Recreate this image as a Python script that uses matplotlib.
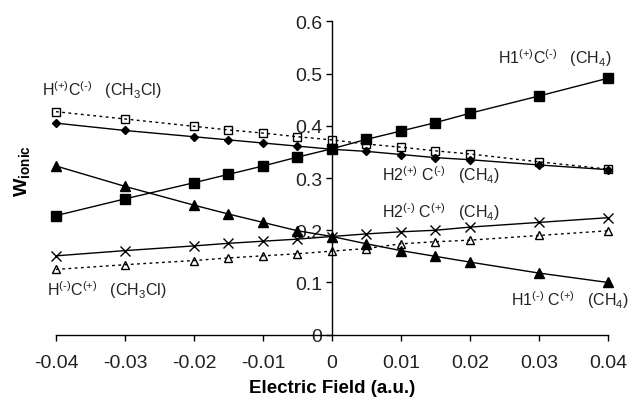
import numpy as np
import matplotlib
matplotlib.use('Agg')
import matplotlib.pyplot as plt

plt.rcParams['font.family'] = ['Liberation Sans', 'DejaVu Sans']
plt.rcParams['mathtext.fontset'] = 'custom'
plt.rcParams['mathtext.rm'] = 'Liberation Sans'
plt.rcParams['mathtext.bf'] = 'Liberation Sans:bold'
plt.rcParams['mathtext.default'] = 'regular'
plt.rcParams['axes.unicode_minus'] = False

# electric field values (a.u.)
field = [-0.04, -0.03, -0.02, -0.015, -0.01, -0.005, 0,
         0.005, 0.01, 0.015, 0.02, 0.03, 0.04]

h1p_c_ch4 = [0.228, 0.260, 0.291, 0.307, 0.323, 0.340, 0.356,
             0.374, 0.390, 0.406, 0.424, 0.457, 0.491]
h2p_c_ch4 = [0.405, 0.391, 0.379, 0.373, 0.367, 0.361, 0.355,
             0.351, 0.345, 0.339, 0.335, 0.325, 0.316]
hp_c_ch3cl = [0.427, 0.413, 0.399, 0.392, 0.386, 0.379, 0.373,
              0.365, 0.359, 0.352, 0.346, 0.331, 0.317]
h1m_c_ch4 = [0.323, 0.284, 0.248, 0.231, 0.215, 0.199, 0.188,
             0.174, 0.161, 0.150, 0.139, 0.118, 0.100]
h2m_c_ch4 = [0.151, 0.161, 0.170, 0.175, 0.179, 0.183, 0.188,
             0.193, 0.197, 0.200, 0.206, 0.215, 0.224]
hm_c_ch3cl = [0.125, 0.134, 0.142, 0.147, 0.151, 0.155, 0.160,
              0.165, 0.174, 0.178, 0.181, 0.190, 0.199]

xticks = [-0.04, -0.03, -0.02, -0.01, 0, 0.01, 0.02, 0.03, 0.04]
xticklabels = ['-0.04', '-0.03', '-0.02', '-0.01', '0', '0.01', '0.02', '0.03', '0.04']
yticks = [0, 0.1, 0.2, 0.3, 0.4, 0.5, 0.6]
yticklabels = ['0', '0.1', '0.2', '0.3', '0.4', '0.5', '0.6']

fig = plt.figure(figsize=(6.32, 4.10), dpi=100)
ax = fig.add_axes([0.0886, 0.1812, 0.8734, 0.7644])

dot = (0, (2, 2.5))
ax.plot(field, hp_c_ch3cl, color='k', lw=1, ls=dot, marker='s', ms=6,
        mfc='none', mec='k', mew=1, clip_on=False)
ax.plot(field, hm_c_ch3cl, color='k', lw=1, ls=dot, marker='^', ms=6,
        mfc='none', mec='k', mew=1, clip_on=False)
ax.plot(field, h2p_c_ch4, color='k', lw=1, marker='D', ms=4.5, clip_on=False)
ax.plot(field, h1p_c_ch4, color='k', lw=1, marker='s', ms=6.5, clip_on=False)
ax.plot(field, h1m_c_ch4, color='k', lw=1, marker='^', ms=6.5, clip_on=False)
ax.plot(field, h2m_c_ch4, color='k', lw=1, marker='x', ms=6.5, mew=1, clip_on=False)

ax.set_xlim(-0.04, 0.04)
ax.set_ylim(0, 0.6)
ax.spines['left'].set_position(('data', 0))
ax.spines['bottom'].set_position(('data', 0))
ax.spines['right'].set_visible(False)
ax.spines['top'].set_visible(False)
for s in ('left', 'bottom'):
    ax.spines[s].set_linewidth(1)

ax.set_xticks(xticks)
ax.set_xticklabels(xticklabels)
ax.set_yticks(yticks)
ax.set_yticklabels(yticklabels)
ax.tick_params(axis='both', direction='out', length=4, width=1, labelsize=14,
               colors='k', labelcolor='#222222')
ax.tick_params(axis='x', pad=10)
ax.tick_params(axis='y', pad=3)

ax.set_xlabel('Electric Field (a.u.)', fontsize=13.5, fontweight='bold', labelpad=6)
fig.text(0.035, 0.583, r'$\mathbf{W}_{\mathbf{ionic}}$', rotation=90,
         fontsize=14, ha='center', va='center')

# superscript signs; a hyphen so the minus stays short as in the original
P = '(+)'
M = '(\u2010)'
tfs = 11.5
tc = '#222222'
ax.text(0.024, 0.532, 'H1$^{%s}$C$^{%s}$   (CH$_4$)' % (P, M), fontsize=tfs, color=tc, va='center')
ax.text(-0.0421, 0.471, 'H$^{%s}$C$^{%s}$   (CH$_3$Cl)' % (P, M), fontsize=tfs, color=tc, va='center')
ax.text(0.0073, 0.308, 'H2$^{%s}$ C$^{%s}$   (CH$_4$)' % (P, M), fontsize=tfs, color=tc, va='center')
ax.text(0.0073, 0.237, 'H2$^{%s}$ C$^{%s}$   (CH$_4$)' % (M, P), fontsize=tfs, color=tc, va='center')
ax.text(-0.0413, 0.088, 'H$^{%s}$C$^{%s}$   (CH$_3$Cl)' % (M, P), fontsize=tfs, color=tc, va='center')
ax.text(0.026, 0.068, 'H1$^{%s}$ C$^{%s}$   (CH$_4$)' % (M, P), fontsize=tfs, color=tc, va='center')

fig.savefig('out.png', dpi=100)
